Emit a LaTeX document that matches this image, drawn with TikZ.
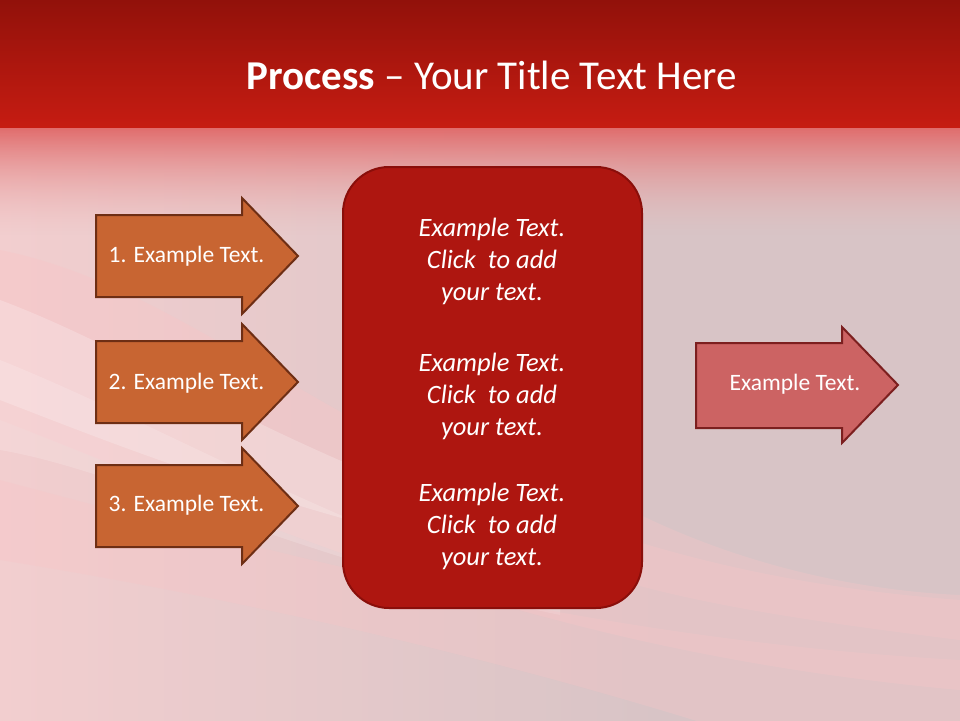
\documentclass[tikz,border=0pt]{standalone}
\usepackage{fontspec}
\usetikzlibrary{fadings}
\setmainfont{Carlito}
\definecolor{bandtop}{RGB}{145,17,10}
\definecolor{bandbot}{RGB}{198,28,18}
\definecolor{fadetop}{RGB}{224,106,106}
\definecolor{fademid}{RGB}{236,184,184}
\definecolor{bgbase}{RGB}{216,196,198}
\definecolor{leftglow}{RGB}{242,206,207}
\definecolor{swpink}{RGB}{250,196,198}
\definecolor{orfill}{RGB}{200,101,50}
\definecolor{ordraw}{RGB}{110,46,20}
\definecolor{rafill}{RGB}{204,99,99}
\definecolor{radraw}{RGB}{124,31,31}
\definecolor{boxfill}{RGB}{174,22,16}
\definecolor{boxdraw}{RGB}{138,14,10}
\tikzfading[name=hdrfd, top color=transparent!0, bottom color=transparent!100]
\tikzset{
  orarrow/.style={fill=orfill,draw=ordraw,line width=2pt,line join=miter},
  rarrow/.style={fill=rafill,draw=radraw,line width=2pt,line join=miter},
  bigbox/.style={fill=boxfill,draw=boxdraw,line width=2pt,rounded corners=46pt},
  arrtext/.style={text=white,font=\fontsize{23.5}{26}\selectfont,inner sep=0pt},
  boxtext/.style={text=white,font=\fontsize{26.5}{32}\selectfont\itshape,align=center,inner sep=0pt},
}
\begin{document}
\begin{tikzpicture}[x=1pt,y=-1pt]
\useasboundingbox (0,0) rectangle (960,720);
% background
\fill[bgbase] (-2,-2) rectangle (962,722);
\shade[left color=leftglow,right color=bgbase] (-2,120) rectangle (660,722);
\fill[swpink,opacity=0.35] (0,250) .. controls (250,300) and (420,560) .. (960,600) -- (960,690) .. controls (520,650) and (260,520) .. (0,420) -- cycle;
\fill[white,opacity=0.22] (0,300) .. controls (160,360) and (300,470) .. (620,560) -- (620,585) .. controls (300,520) and (130,450) .. (0,400) -- cycle;
\fill[white,opacity=0.16] (0,360) .. controls (150,420) and (320,520) .. (560,600) -- (560,615) .. controls (300,560) and (120,470) .. (0,450) -- cycle;
\fill[swpink,opacity=0.3] (0,480) .. controls (300,560) and (600,640) .. (960,660) -- (960,722) -- (700,722) .. controls (500,660) and (250,600) .. (0,560) -- cycle;
\fill[swpink,opacity=0.3] (560,470) .. controls (700,560) and (850,590) .. (960,595) -- (960,640) .. controls (800,620) and (660,600) .. (560,560) -- cycle;
% header
\shade[top color=fadetop,bottom color=fademid,path fading=hdrfd] (-2,126) rectangle (962,235);
\shade[top color=bandtop,bottom color=bandbot] (-2,-2) rectangle (962,127);
\node[text=white,font=\fontsize{41}{46}\selectfont,inner sep=0pt] (title) at (492,75) {\textbf{Process} – Your Title Text Here};
% left arrows
\draw[orarrow] (96,215) -- (242,215) -- (242,198) -- (298,256) -- (242,314) -- (242,297) -- (96,297) -- cycle;
\node[arrtext] (a1) at (186.5,256) {1. Example Text.};
\draw[orarrow] (96,341) -- (242,341) -- (242,324) -- (298,382) -- (242,440) -- (242,423) -- (96,423) -- cycle;
\node[arrtext] (a2) at (186.5,383) {2. Example Text.};
\draw[orarrow] (96,465) -- (242,465) -- (242,448) -- (298,506) -- (242,564) -- (242,547) -- (96,547) -- cycle;
\node[arrtext] (a3) at (186.5,505) {3. Example Text.};
% center box
\draw[bigbox] (343,167) rectangle (642,608);
\node[boxtext] (t1) at (492,261) {Example Text.\\Click~ to add\\your text.};
\node[boxtext] (t2) at (492,396) {Example Text.\\Click~ to add\\your text.};
\node[boxtext] (t3) at (492,526) {Example Text.\\Click~ to add\\your text.};
% right arrow
\draw[rarrow] (696,343) -- (842,343) -- (842,327) -- (898,385) -- (842,443) -- (842,428) -- (696,428) -- cycle;
\node[arrtext] (r1) at (795,384) {Example Text.};
\end{tikzpicture}
\end{document}
